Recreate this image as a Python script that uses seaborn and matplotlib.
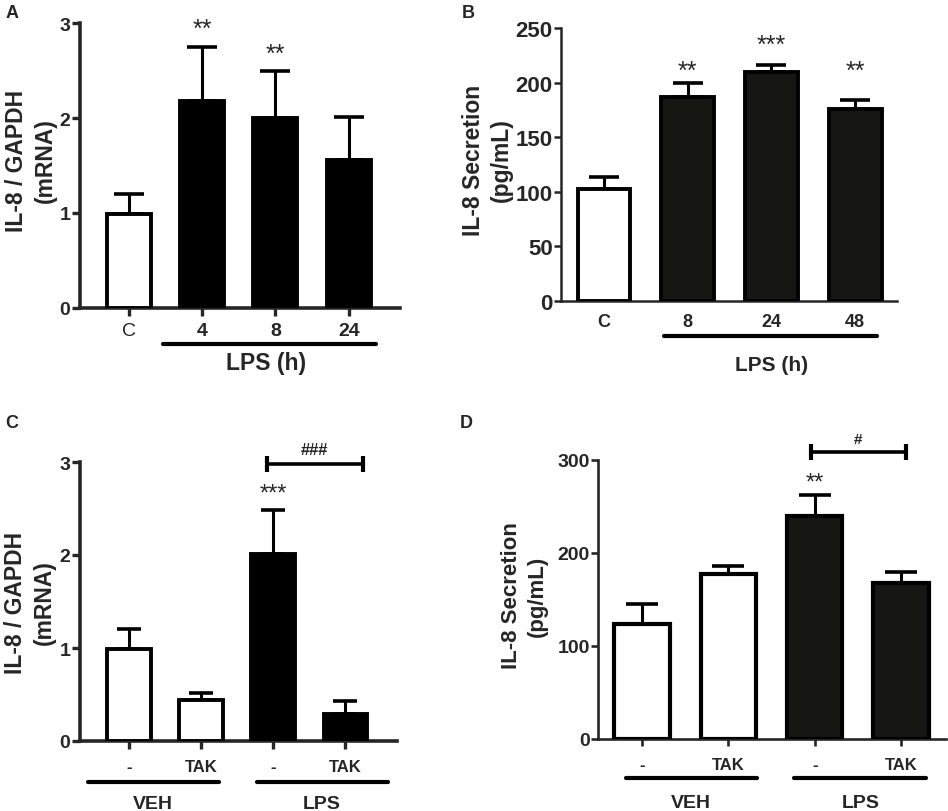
import numpy as np
import pandas as pd
import matplotlib
matplotlib.use("Agg")
import matplotlib.pyplot as plt
import seaborn as sns

# ---------------- data ----------------
a_cats = ["C", "4", "8", "24"]
a_mean = [0.99, 2.18, 2.00, 1.56]
a_sem = [0.21, 0.57, 0.49, 0.45]
a_fill = ["white", "black", "black", "black"]
a_stars = ["", "**", "**", ""]

b_cats = ["C", "8", "24", "48"]
b_mean = [103, 187, 210, 176]
b_sem = [11, 13, 6, 8]
b_fill = ["white", "#161613", "#161613", "#161613"]
b_stars = ["", "**", "***", "**"]

c_keys = ["VEH -", "VEH TAK", "LPS -", "LPS TAK"]
c_ticks = ["-", "TAK", "-", "TAK"]
c_mean = [0.99, 0.44, 2.01, 0.29]
c_sem = [0.21, 0.08, 0.47, 0.14]
c_fill = ["white", "white", "black", "black"]

d_keys = ["VEH -", "VEH TAK", "LPS -", "LPS TAK"]
d_ticks = ["-", "TAK", "-", "TAK"]
d_mean = [124, 177, 240, 168]
d_sem = [21, 9, 22, 12]
d_fill = ["white", "white", "#161613", "#161613"]

sns.set_style("ticks")
plt.rcParams["font.family"] = ["Liberation Sans", "DejaVu Sans"]
plt.rcParams["font.weight"] = "bold"

W, H = 948, 812
fig = plt.figure(figsize=(W / 100, H / 100), dpi=100)


def px_axes(l, r, b, t):
    return fig.add_axes([l / W, 1 - b / H, (r - l) / W, (b - t) / H])


def draw(ax, keys, means, sems, fills, width, lw, cap, elw, spine_lw, xlim, ylim):
    df = pd.DataFrame({"cat": keys, "val": means})
    sns.barplot(data=df, x="cat", y="val", hue="cat", palette=fills, legend=False,
                width=width, edgecolor="black", linewidth=lw, errorbar=None,
                ax=ax, zorder=3)
    n = len(keys)
    ax.errorbar(np.arange(n), means, yerr=[np.zeros(n), sems], fmt="none",
                ecolor="black", elinewidth=elw, capsize=cap, capthick=elw + 0.4, zorder=2)
    ax.set_xlim(*xlim)
    ax.set_ylim(*ylim)
    sns.despine(ax=ax)
    for s in ("left", "bottom"):
        ax.spines[s].set_linewidth(spine_lw)
    ax.set_xlabel("")


# ---------------- Panel A ----------------
axA = px_axes(80, 400, 309, 24)
draw(axA, a_cats, a_mean, a_sem, a_fill, 0.60, 2.8, 11, 2.2, 2.6, (-0.668, 3.70), (0, 3))
axA.set_yticks([0, 1, 2, 3])
axA.tick_params(axis="y", length=6, width=2.4, labelsize=14, pad=1)
axA.tick_params(axis="x", length=6, width=2.4, labelsize=14, pad=4)
axA.set_xticks(range(4))
axA.set_xticklabels(a_cats)
axA.get_xticklabels()[0].set_fontweight("normal")
axA.set_ylabel("IL-8 / GAPDH\n(mRNA)", fontsize=16.5, fontweight="bold", linespacing=1.35)
axA.yaxis.set_label_coords(-0.072, 0.52)
a_star_y = [0, 2.94, 2.68, 0]
for i, s in enumerate(a_stars):
    if s:
        axA.text(i, a_star_y[i], s, ha="center", va="center", fontsize=18, fontweight="normal")
tA = axA.get_xaxis_transform()
axA.plot([0.46, 3.37], [-0.126, -0.126], color="black", lw=3, transform=tA, clip_on=False)
axA.text(1.87, -0.19, "LPS (h)", transform=tA, ha="center", va="center", fontsize=16.5)

# ---------------- Panel B ----------------
axB = px_axes(561, 897, 302, 29)
draw(axB, b_cats, b_mean, b_sem, b_fill, 0.63, 2.8, 10.5, 2.2, 1.8, (-0.514, 3.50), (0, 250))
axB.set_yticks([0, 50, 100, 150, 200, 250])
axB.tick_params(axis="y", length=5, width=1.8, labelsize=16, pad=1)
axB.tick_params(axis="x", length=0, labelsize=13, pad=9)
axB.set_ylabel("IL-8 Secretion\n(pg/mL)", fontsize=16.5, fontweight="bold", linespacing=1.3)
axB.yaxis.set_label_coords(-0.142, 0.52)
b_star_y = [0, 210.6, 235, 210.6]
for i, s in enumerate(b_stars):
    if s:
        axB.text(i, b_star_y[i], s, ha="center", va="center", fontsize=18, fontweight="normal")
tB = axB.get_xaxis_transform()
axB.plot([0.72, 3.26], [-0.128, -0.128], color="black", lw=3, transform=tB, clip_on=False)
axB.text(2.0, -0.231, "LPS (h)", transform=tB, ha="center", va="center", fontsize=15)

# ---------------- Panel C ----------------
axC = px_axes(80, 397, 742, 463)
draw(axC, c_keys, c_mean, c_sem, c_fill, 0.60, 2.8, 8.6, 2.2, 2.6, (-0.68, 3.72), (0, 3))
axC.set_yticks([0, 1, 2, 3])
axC.tick_params(axis="y", length=6, width=2.4, labelsize=14, pad=1)
axC.tick_params(axis="x", length=6, width=2.4, labelsize=12, pad=7)
axC.set_xticks(range(4))
axC.set_xticklabels(c_ticks)
axC.set_ylabel("IL-8 / GAPDH\n(mRNA)", fontsize=16.5, fontweight="bold", linespacing=1.35)
axC.yaxis.set_label_coords(-0.075, 0.50)
axC.text(2, 2.66, "***", ha="center", va="center", fontsize=17, fontweight="normal")
axC.plot([1.92, 3.25], [2.98, 2.98], color="black", lw=2.6, clip_on=False,
         marker="|", markersize=11, markeredgewidth=3)
axC.text(2.58, 3.13, "###", ha="center", va="center", fontsize=12)
tC = axC.get_xaxis_transform()
axC.plot([-0.57, 1.25], [-0.147, -0.147], color="black", lw=3, transform=tC, clip_on=False)
axC.plot([1.78, 3.60], [-0.147, -0.147], color="black", lw=3, transform=tC, clip_on=False)
axC.text(0.33, -0.240, "VEH", transform=tC, ha="center", va="baseline", fontsize=14)
axC.text(2.68, -0.240, "LPS", transform=tC, ha="center", va="baseline", fontsize=14)

# ---------------- Panel D ----------------
axD = px_axes(598, 946, 740, 461)
draw(axD, d_keys, d_mean, d_sem, d_fill, 0.64, 3.0, 11.5, 2.2, 1.9, (-0.51, 3.52), (0, 300))
axD.set_yticks([0, 100, 200, 300])
axD.tick_params(axis="y", length=5, width=1.9, labelsize=14, pad=1)
axD.tick_params(axis="x", length=5, width=1.9, labelsize=12, pad=8)
axD.set_xticks(range(4))
axD.set_xticklabels(d_ticks)
axD.set_ylabel("IL-8 Secretion\n(pg/mL)", fontsize=16, fontweight="bold", linespacing=1.3)
axD.yaxis.set_label_coords(-0.145, 0.516)
axD.text(2, 276, "**", ha="center", va="center", fontsize=17, fontweight="normal")
axD.plot([1.96, 3.06], [308.6, 308.6], color="black", lw=2.6, clip_on=False,
         marker="|", markersize=11, markeredgewidth=3)
axD.text(2.5, 322.6, "#", ha="center", va="center", fontsize=11)
tD = axD.get_xaxis_transform()
axD.plot([-0.185, 1.33], [-0.140, -0.140], color="black", lw=3, transform=tD, clip_on=False)
axD.plot([1.76, 3.29], [-0.140, -0.140], color="black", lw=3, transform=tD, clip_on=False)
axD.text(0.57, -0.245, "VEH", transform=tD, ha="center", va="baseline", fontsize=14)
axD.text(2.53, -0.245, "LPS", transform=tD, ha="center", va="baseline", fontsize=14)

for ax in (axA, axB, axC, axD):
    for lab in ax.get_yticklabels() + ax.get_xticklabels():
        if lab.get_fontweight() != "normal":
            lab.set_fontweight("bold")

# panel letters
for letter, (x, y) in {"A": (12, 13), "B": (468, 13), "C": (12, 424), "D": (466, 424)}.items():
    fig.text(x / W, 1 - y / H, letter, ha="center", va="center", fontsize=13, fontweight="bold")

fig.savefig("out.png", dpi=100)
